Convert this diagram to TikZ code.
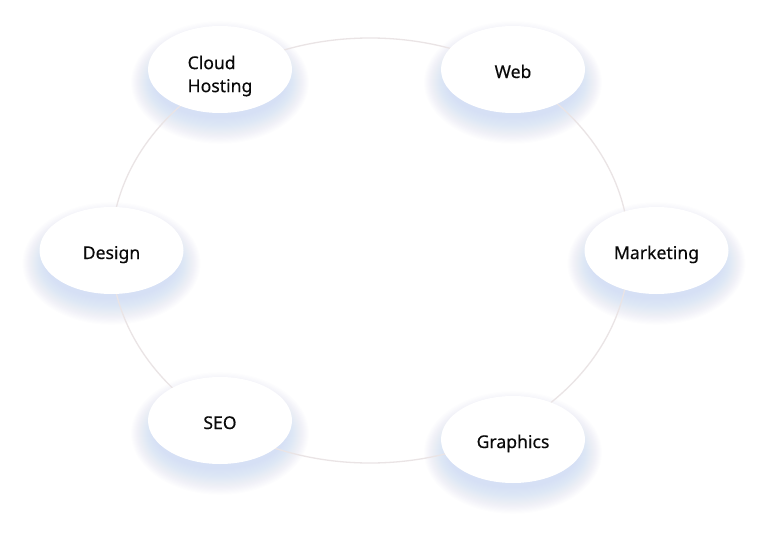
\documentclass[tikz,border=0pt]{standalone}
\usepackage{fontspec}
\setmainfont{Noto Sans}
\newfontfamily\bubblefont{Noto Sans}[FakeBold=0.35]
\usetikzlibrary{shapes.geometric}
\definecolor{ringcol}{RGB}{234,228,229}
\definecolor{glowcol}{RGB}{95,115,245}
\definecolor{txtcol}{RGB}{10,10,10}
\begin{document}
\begin{tikzpicture}[x=1pt,y=-1pt,
  bubble/.style={ellipse, fill=white, minimum width=144pt, minimum height=87pt,
    inner sep=0pt, font=\bubblefont\fontsize{17.6}{23}\selectfont, text=txtcol},
  oneline/.style={text height=17pt, text depth=0pt},
  ring/.style={draw=ringcol, line width=1.3pt}]
\useasboundingbox (0,0) rectangle (769,538);
\fill[white] (0,0) rectangle (769,538);
\foreach \cx/\cy in {220/69.5, 513/69.5, 111.5/250.5, 656.5/250.5, 220/420.5, 513/439.5} {
  \foreach \k in {0,...,23} {
    \fill[glowcol, opacity=0.0065] (\cx, \cy+13) ellipse [x radius=66pt+\k*1.0pt, y radius=36pt+\k*1.1pt];
  }
}
\draw[ring] (370,250.5) ellipse [x radius=259pt, y radius=212.5pt];
\node[bubble, text height=0pt, text depth=0pt] (cloud) at (220,69.5) {\raisebox{-10.8pt}[0pt][0pt]{\begin{tabular}{@{}l@{}}Cloud\\Hosting\end{tabular}}};
\node[bubble, oneline] (web) at (513,69.5) {Web};
\node[bubble, oneline] (design) at (111.5,250.5) {Design};
\node[bubble, oneline] (marketing) at (656.5,250.5) {Marketing};
\node[bubble, oneline] (seo) at (220,420.5) {SEO};
\node[bubble, oneline] (graphics) at (513,439.5) {Graphics};
\end{tikzpicture}
\end{document}
